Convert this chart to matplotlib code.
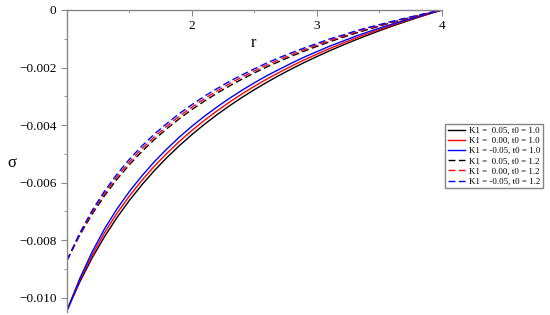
import matplotlib
matplotlib.use("Agg")
import matplotlib.pyplot as plt
from matplotlib.ticker import FuncFormatter, MultipleLocator

plt.rcParams["font.family"] = ["Liberation Serif", "DejaVu Serif"]

# r values (read every 0.1)
r = [1.0, 1.1, 1.2, 1.3, 1.4, 1.5, 1.6, 1.7, 1.8, 1.9, 2.0,
     2.1, 2.2, 2.3, 2.4, 2.5, 2.6, 2.7, 2.8, 2.9, 3.0,
     3.1, 3.2, 3.3, 3.4, 3.5, 3.6, 3.7, 3.8, 3.9, 4.0]

# t0 = 1.0
sig_k005_t10 = [-0.010450, -0.009477, -0.008629, -0.007881, -0.007214, -0.006615,
                -0.006073, -0.005579, -0.005128, -0.004713, -0.004329, -0.003972,
                -0.003641, -0.003331, -0.003041, -0.002768, -0.002512, -0.002269,
                -0.002040, -0.001823, -0.001617, -0.001420, -0.001234, -0.001055,
                -0.000885, -0.000721, -0.000565, -0.000415, -0.000272, -0.000133, 0.0]
sig_k000_t10 = [-0.010450, -0.009417, -0.008524, -0.007746, -0.007064, -0.006460,
                -0.005918, -0.005424, -0.004978, -0.004563, -0.004184, -0.003832,
                -0.003506, -0.003201, -0.002916, -0.002648, -0.002397, -0.002164,
                -0.001940, -0.001728, -0.001532, -0.001340, -0.001164, -0.000990,
                -0.000830, -0.000676, -0.000530, -0.000390, -0.000257, -0.000123, 0.0]
sig_km005_t10 = [-0.010450, -0.009357, -0.008419, -0.007611, -0.006914, -0.006305,
                 -0.005763, -0.005269, -0.004828, -0.004413, -0.004039, -0.003692,
                 -0.003371, -0.003071, -0.002791, -0.002528, -0.002282, -0.002059,
                 -0.001840, -0.001633, -0.001447, -0.001260, -0.001094, -0.000925,
                 -0.000775, -0.000631, -0.000495, -0.000365, -0.000242, -0.000113, 0.0]

# t0 = 1.2
sig_k005_t12 = [-0.008702, -0.007846, -0.007105, -0.006458, -0.005886, -0.005375,
                -0.004916, -0.004500, -0.004123, -0.003777, -0.003459, -0.003166,
                -0.002894, -0.002641, -0.002406, -0.002185, -0.001978, -0.001784,
                -0.001600, -0.001427, -0.001264, -0.001108, -0.000961, -0.000821,
                -0.000687, -0.000559, -0.000438, -0.000321, -0.000210, -0.000102, 0.0]
sig_k000_t12 = [-0.008702, -0.007811, -0.007040, -0.006378, -0.005796, -0.005280,
                -0.004821, -0.004405, -0.004033, -0.003687, -0.003374, -0.003081,
                -0.002814, -0.002561, -0.002331, -0.002115, -0.001908, -0.001719,
                -0.001540, -0.001372, -0.001214, -0.001058, -0.000921, -0.000781,
                -0.000652, -0.000534, -0.000418, -0.000306, -0.000200, -0.000097, 0.0]
sig_km005_t12 = [-0.008702, -0.007776, -0.006975, -0.006298, -0.005706, -0.005185,
                 -0.004726, -0.004310, -0.003943, -0.003597, -0.003289, -0.002996,
                 -0.002734, -0.002481, -0.002256, -0.002045, -0.001838, -0.001654,
                 -0.001480, -0.001317, -0.001164, -0.001008, -0.000881, -0.000741,
                 -0.000617, -0.000509, -0.000398, -0.000291, -0.000190, -0.000092, 0.0]

labels = ["K1 =  0.05, t0 = 1.0", "K1 =  0.00, t0 = 1.0", "K1 = -0.05, t0 = 1.0",
          "K1 =  0.05, t0 = 1.2", "K1 =  0.00, t0 = 1.2", "K1 = -0.05, t0 = 1.2"]

fig = plt.figure(figsize=(5.5, 3.15), dpi=100)
ax = fig.add_axes([0.1218, 0.0095, 0.6818, 0.9588])

series = [sig_k005_t10, sig_k000_t10, sig_km005_t10,
          sig_k005_t12, sig_k000_t12, sig_km005_t12]
colors = ["black", "red", "blue"] * 2
for i, (ys, c, lab) in enumerate(zip(series, colors, labels)):
    if i < 3:
        ax.plot(r, ys, color=c, lw=1.0, label=lab)
    else:
        ax.plot(r, ys, color=c, lw=1.0, dashes=(5, 2.5), label=lab)

ax.set_xlim(1, 4)
ax.set_ylim(-0.0105, 0)

# Maple-style axes crossing at (1, 0)
ax.spines["bottom"].set_position(("data", 0))
ax.spines["left"].set_position(("data", 1))
ax.spines["top"].set_visible(False)
ax.spines["right"].set_visible(False)
for s in ("bottom", "left"):
    ax.spines[s].set_color("#888888")
    ax.spines[s].set_linewidth(1.0)

ax.set_xticks([2, 3, 4])
ax.xaxis.set_minor_locator(MultipleLocator(0.5))
ax.set_yticks([0, -0.002, -0.004, -0.006, -0.008, -0.010])
ax.yaxis.set_minor_locator(MultipleLocator(0.001))
ax.yaxis.set_major_formatter(FuncFormatter(lambda v, p: "0" if abs(v) < 1e-12 else "\u2212%.3f" % abs(v)))
ax.tick_params(axis="both", which="major", direction="out", length=4, color="#888888", labelsize=9.5)
ax.tick_params(axis="both", which="minor", direction="out", length=2.5, color="#888888")
ax.tick_params(axis="x", pad=3)

fig.text(253 / 550, 1 - 43 / 315, "r", fontsize=12, ha="center", va="center")
fig.text(12 / 550, 1 - 163 / 315, "\u03c3", fontsize=12, ha="center", va="center")

leg = ax.legend(loc="upper left", bbox_to_anchor=(445 / 550, 1 - 124 / 315),
                bbox_transform=fig.transFigure, fontsize=6.4, frameon=True,
                fancybox=False, borderpad=0.3, labelspacing=0.22,
                handlelength=2.0, handletextpad=0.4, borderaxespad=0)
leg.get_frame().set_edgecolor("#666666")
leg.get_frame().set_linewidth(1.0)

fig.savefig("out.png", dpi=100)
